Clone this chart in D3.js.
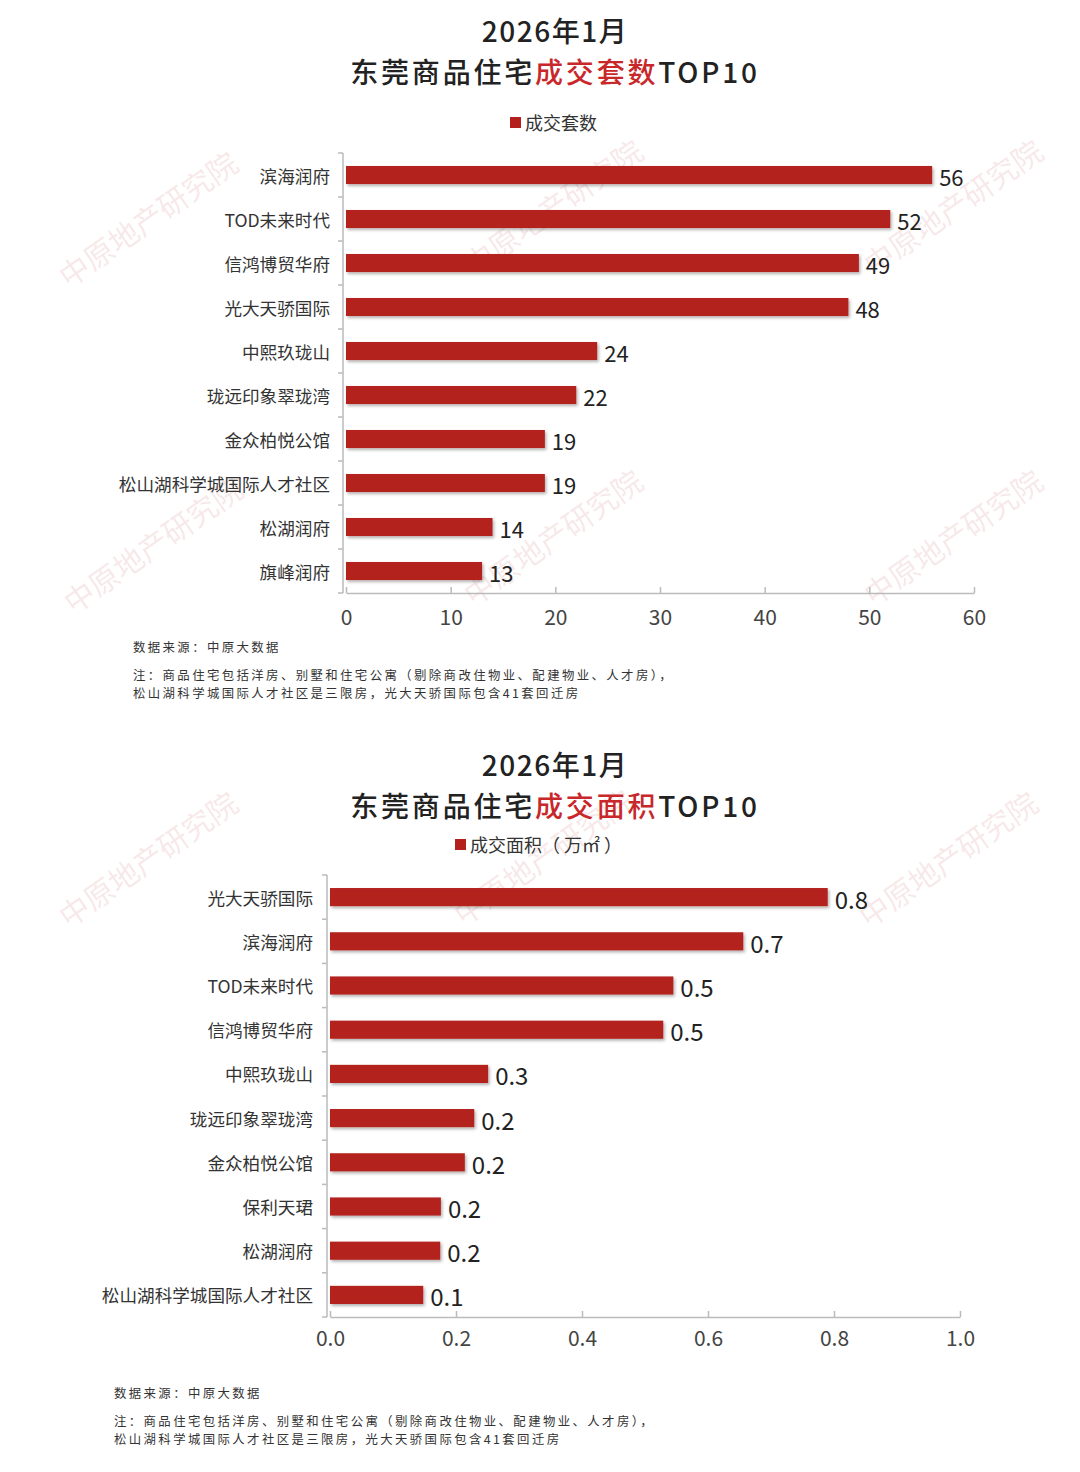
<!DOCTYPE html>
<html><head><meta charset="utf-8">
<script src="https://cdn.jsdelivr.net/npm/d3@7/dist/d3.min.js"></script>
<style>
body{margin:0;background:#fff;}
svg text{font-family:"Noto Sans CJK SC","Noto Sans",sans-serif;}
</style></head>
<body><svg id="c" width="1080" height="1472"></svg>
<script>
// Chart 1 data
const cats1 = ["滨海润府","TOD未来时代","信鸿博贸华府","光大天骄国际","中熙玖珑山","珑远印象翠珑湾","金众柏悦公馆","松山湖科学城国际人才社区","松湖润府","旗峰润府"];
const vals1 = [56,52,49,48,24,22,19,19,14,13];
const ticks1 = [0,10,20,30,40,50,60];
// Chart 2 data
const cats2 = ["光大天骄国际","滨海润府","TOD未来时代","信鸿博贸华府","中熙玖珑山","珑远印象翠珑湾","金众柏悦公馆","保利天珺","松湖润府","松山湖科学城国际人才社区"];
const vals2 = [0.79,0.656,0.545,0.529,0.251,0.229,0.214,0.176,0.175,0.148];
const ticks2 = [0,0.2,0.4,0.6,0.8,1.0];
const titleTop = "2026年1月";
const titlePre = "东莞商品住宅", titleRed1 = "成交套数", titleRed2 = "成交面积", titlePost = "TOP10";
const legend1 = "成交套数", legend2 = "成交面积（ 万㎡ ）";
const src = "数据来源：中原大数据";
const note1 = "注：商品住宅包括洋房、别墅和住宅公寓（剔除商改住物业、配建物业、人才房），";
const note2 = "松山湖科学城国际人才社区是三限房，光大天骄国际包含41套回迁房";

const svg = d3.select("#c");
const RED = "#b3201e";
const defs = svg.append("defs");
const f = defs.append("filter").attr("id","sh").attr("x","-5%").attr("y","-30%").attr("width","110%").attr("height","180%");
f.append("feDropShadow").attr("dx",1.5).attr("dy",2).attr("stdDeviation",1.5).attr("flood-color","#000").attr("flood-opacity",0.3);

// watermarks
const wm = [[150,222],[555,210],[955,210],[155,548],[555,540],[955,540],[150,862],[545,860],[950,862]];
svg.append("g").selectAll("text").data(wm).join("text")
  .attr("transform",d=>`translate(${d[0]},${d[1]}) rotate(-35)`)
  .attr("text-anchor","middle").attr("dominant-baseline","middle")
  .attr("font-size",30).attr("fill","#e8b8b8").attr("opacity",0.3)
  .text("中原地产研究院");

function chart(o){
  const g = svg.append("g");
  // title
  g.append("text").attr("x",555).attr("y",o.t1).attr("text-anchor","middle").attr("font-size",28).attr("font-weight",500).attr("letter-spacing",1.5).attr("fill","#222").text(titleTop);
  const l2 = g.append("text").attr("x",555).attr("y",o.t2).attr("text-anchor","middle").attr("font-size",28).attr("font-weight",500).attr("letter-spacing",2.8).attr("fill","#222");
  l2.append("tspan").text(titlePre);
  l2.append("tspan").attr("fill","#c8282a").text(o.red);
  l2.append("tspan").text(titlePost);
  // legend
  g.append("rect").attr("x",o.lx).attr("y",o.ly-6).attr("width",11).attr("height",11).attr("fill",RED);
  g.append("text").attr("x",o.lx+15).attr("y",o.ly+7).attr("font-size",18).attr("fill","#333").text(o.legend);

  const x = d3.scaleLinear().domain(o.dom).range([o.x0,o.x1]);
  const y = d3.scaleBand().domain(o.cats).range([o.y0,o.y1]).paddingInner(0.59).paddingOuter(0.295);
  const step = (o.y1-o.y0)/o.cats.length;
  g.append("line").attr("x1",o.x0-3).attr("x2",o.x0-3).attr("y1",o.y0).attr("y2",o.y1).attr("stroke","#bbb").attr("stroke-width",1.5);
  g.selectAll(".yt").data(d3.range(o.cats.length+1)).join("line")
    .attr("x1",o.x0-8).attr("x2",o.x0-3).attr("y1",i=>o.y0+i*step).attr("y2",i=>o.y0+i*step).attr("stroke","#bbb").attr("stroke-width",1.5);
  // x axis
  const xa = g.append("g").attr("transform",`translate(0,${o.y1})`)
    .call(d3.axisBottom(x).tickValues(o.ticks).tickSize(5).tickSizeOuter(0).tickFormat(o.fmt));
  xa.select(".domain").attr("stroke","#bbb").attr("stroke-width",1.5);
  xa.selectAll(".tick line").attr("stroke","#bbb").attr("stroke-width",1.5).attr("y1",-6).attr("y2",0);
  xa.selectAll(".tick text").attr("font-size",21).attr("fill","#444").attr("dy",0).attr("y",o.tickY-o.y1+7).attr("font-family","Liberation Sans, Arial, sans-serif");
  // category labels
  g.selectAll(".cl").data(o.cats).join("text")
    .attr("x",o.x0-o.lo).attr("y",d=>y(d)+y.bandwidth()/2).attr("dominant-baseline","central")
    .attr("text-anchor","end").attr("font-size",17.6).attr("fill","#333").text(d=>d);
  // bars
  g.selectAll(".b").data(o.vals).join("rect")
    .attr("x",x(0)).attr("y",(d,i)=>y(o.cats[i])).attr("height",y.bandwidth())
    .attr("width",d=>x(d)-x(0)).attr("fill",RED).attr("filter","url(#sh)");
  g.selectAll(".v").data(o.vals).join("text")
    .attr("x",d=>x(d)+7).attr("y",(d,i)=>y(o.cats[i])+y.bandwidth()/2+1).attr("dominant-baseline","central")
    .attr("font-size",o.vfs).attr("fill","#222").attr("font-family","Liberation Sans, Arial, sans-serif")
    .text(o.vfmt);
  // notes
  const nt = (t,dy)=>g.append("text").attr("x",o.nx).attr("y",o.ny+dy).attr("font-size",12.4).attr("letter-spacing",2.4).attr("fill","#333").text(t);
  nt(src,0); nt(note1,28); nt(note2,46.3);
}

chart({t1:42,t2:83,red:titleRed1,lx:510,ly:123,legend:legend1,dom:[0,60],x0:346,x1:974,y0:153,y1:593,lo:16,
  cats:cats1,vals:vals1,ticks:ticks1,fmt:d3.format("d"),tickY:618,vfmt:d=>d,vfs:22,nx:133,ny:652});
chart({t1:776,t2:817,red:titleRed2,lx:455,ly:845,legend:legend2,dom:[0,1],x0:330,x1:960,y0:875,y1:1317,lo:17,
  cats:cats2,vals:vals2,ticks:ticks2,fmt:d3.format(".1f"),tickY:1339,vfmt:d=>d3.format(".1f")(d),vfs:24,nx:114,ny:1398});
</script></body></html>
